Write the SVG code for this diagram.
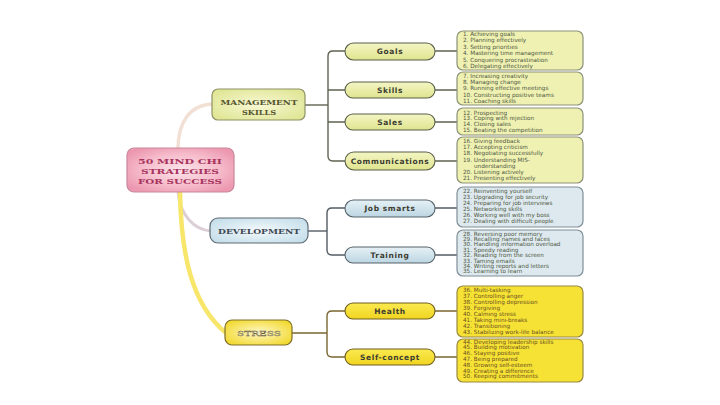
<svg xmlns="http://www.w3.org/2000/svg" width="720" height="405" viewBox="0 0 720 405">
<defs>
<radialGradient id="gPink" cx="50%" cy="50%" r="60%"><stop offset="0" stop-color="#fbe4ea"/><stop offset="0.6" stop-color="#f6bccb"/><stop offset="1" stop-color="#ec98b0"/></radialGradient>
<radialGradient id="gMgmt" cx="50%" cy="50%" r="60%"><stop offset="0" stop-color="#f8f8d4"/><stop offset="1" stop-color="#e0e696"/></radialGradient>
<radialGradient id="gDev" cx="50%" cy="50%" r="60%"><stop offset="0" stop-color="#f4f9fc"/><stop offset="1" stop-color="#c6dfea"/></radialGradient>
<radialGradient id="gStress" cx="50%" cy="50%" r="60%"><stop offset="0" stop-color="#fff8c8"/><stop offset="1" stop-color="#f2d930"/></radialGradient>
<linearGradient id="gPillG" x1="0" y1="0" x2="0" y2="1"><stop offset="0" stop-color="#f4f6c4"/><stop offset="1" stop-color="#dfe48e"/></linearGradient>
<linearGradient id="gPillB" x1="0" y1="0" x2="0" y2="1"><stop offset="0" stop-color="#e6f1f6"/><stop offset="1" stop-color="#bcd6e2"/></linearGradient>
<linearGradient id="gPillY" x1="0" y1="0" x2="0" y2="1"><stop offset="0" stop-color="#fbea50"/><stop offset="1" stop-color="#f0d420"/></linearGradient>
</defs>
<style>
.main{font-family:"DejaVu Serif","Liberation Serif",serif;font-size:8px;text-anchor:middle}
.pill{font-family:"DejaVu Sans","Liberation Sans",sans-serif;font-weight:bold;font-size:7.5px;letter-spacing:0.6px;fill:#3c3c30;text-anchor:middle}
.li{font-family:"DejaVu Sans","Liberation Sans",sans-serif;font-size:5.7px;fill:#4e5642}
.liY{font-family:"DejaVu Sans","Liberation Sans",sans-serif;font-size:5.7px;fill:#6a4e22}
.listG{fill:#eef1b2;stroke:#8c9278;stroke-width:1.2}
.listB{fill:#dde9ee;stroke:#7f8e96;stroke-width:1.2}
.listY{fill:#f6e234;stroke:#9a8a40;stroke-width:1.2}
.pillG{fill:url(#gPillG);stroke:#5a5e48;stroke-width:1.1}
.pillB{fill:url(#gPillB);stroke:#56626a;stroke-width:1.1}
.pillY{fill:url(#gPillY);stroke:#6e5e20;stroke-width:1.1}
.cG{fill:none;stroke:#5e6450;stroke-width:1.4}
.cB{fill:none;stroke:#535c64;stroke-width:1.4}
.cY{fill:none;stroke:#7a6630;stroke-width:1.4}
</style>
<rect width="720" height="405" fill="#ffffff"/>

<g id="connectors">
<path d="M178,149 C178,122 190,105 212,104" fill="none" stroke="#f2e0d4" stroke-width="3.5"/>
<path d="M178,192 C180,215 194,230 211,231" fill="none" stroke="#dccfd6" stroke-width="3"/>
<path d="M180,192 C181,255 192,305 226,333" fill="none" stroke="#f7e66a" stroke-width="4.5"/>

<path class="cG" d="M305,105 H328"/>
<path class="cG" d="M345,51 H333 Q328,51 328,56 V156 Q328,161 333,161 H345"/>
<path class="cG" d="M328,90 H345 M328,122 H345"/>
<path class="cG" d="M435,51 H457 M435,90 H457 M435,122 H457 M435,161 H457"/>

<path class="cB" d="M308,231 H327"/>
<path class="cB" d="M345,208 H332 Q327,208 327,213 V250 Q327,255 332,255 H345"/>
<path class="cB" d="M435,208 H457 M435,255 H457"/>

<path class="cY" d="M292,333 H327"/>
<path class="cY" d="M345,311 H332 Q327,311 327,316 V352 Q327,357 332,357 H345"/>
<path class="cY" d="M435,311 H457 M435,357 H457"/>
</g>

<g id="center">
<rect x="127" y="148" width="107" height="44" rx="7" fill="url(#gPink)" stroke="#c9879c" stroke-width="1.2"/>
<text class="main" x="180" y="164" fill="#a8345e" font-weight="bold" textLength="84" lengthAdjust="spacingAndGlyphs">50 MIND CHI</text>
<text class="main" x="180" y="174" fill="#a8345e" font-weight="bold" textLength="78" lengthAdjust="spacingAndGlyphs">STRATEGIES</text>
<text class="main" x="180" y="184" fill="#a8345e" font-weight="bold" textLength="84" lengthAdjust="spacingAndGlyphs">FOR SUCCESS</text>
</g>

<g id="management">
<rect x="212" y="89" width="93" height="31" rx="6" fill="url(#gMgmt)" stroke="#8e9266" stroke-width="1.2"/>
<text class="main" x="259" y="105" fill="#55552f" font-weight="bold" textLength="77" lengthAdjust="spacingAndGlyphs">MANAGEMENT</text>
<text class="main" x="259" y="115" fill="#55552f" font-weight="bold" textLength="34" lengthAdjust="spacingAndGlyphs">SKILLS</text>
</g>

<g id="development">
<rect x="210" y="218" width="98" height="25" rx="8" fill="url(#gDev)" stroke="#5e6a72" stroke-width="1.2"/>
<text class="main" x="259" y="234" fill="#3e4a56" font-weight="bold" textLength="82" lengthAdjust="spacingAndGlyphs">DEVELOPMENT</text>
</g>

<g id="stress">
<rect x="225" y="320" width="67" height="25" rx="7" fill="url(#gStress)" stroke="#7e6e2a" stroke-width="1.2"/>
<text class="main" x="259" y="336" fill="#fffbe0" stroke="#6a6040" stroke-width="0.4" textLength="44" lengthAdjust="spacingAndGlyphs">STRESS</text>
</g>

<g id="goals">
<rect class="pillG" x="345" y="43" width="90" height="17" rx="8.5"/>
<text class="pill" x="390" y="54">Goals</text>
</g>
<g id="skills">
<rect class="pillG" x="345" y="82" width="90" height="16" rx="8"/>
<text class="pill" x="390" y="93">Skills</text>
</g>
<g id="sales">
<rect class="pillG" x="345" y="114" width="90" height="16" rx="8"/>
<text class="pill" x="390" y="125">Sales</text>
</g>
<g id="communications">
<rect class="pillG" x="345" y="152" width="90" height="18" rx="9"/>
<text class="pill" x="390" y="164">Communications</text>
</g>
<g id="jobsmarts">
<rect class="pillB" x="345" y="200" width="90" height="17" rx="8.5"/>
<text class="pill" x="390" y="211">Job smarts</text>
</g>
<g id="training">
<rect class="pillB" x="345" y="247" width="90" height="16" rx="8"/>
<text class="pill" x="390" y="258">Training</text>
</g>
<g id="health">
<rect class="pillY" x="345" y="303" width="90" height="16" rx="8"/>
<text class="pill" x="390" y="314">Health</text>
</g>
<g id="selfconcept">
<rect class="pillY" x="345" y="349" width="90" height="16" rx="8"/>
<text class="pill" x="390" y="360">Self-concept</text>
</g>

<g id="list-goals">
<rect class="listG" x="457" y="31" width="126" height="39" rx="6"/>
<text class="li" x="463" y="36">1. Achieving goals</text>
<text class="li" x="463" y="42.4">2. Planning effectively</text>
<text class="li" x="463" y="48.8">3. Setting priorities</text>
<text class="li" x="463" y="55.2">4. Mastering time management</text>
<text class="li" x="463" y="61.6">5. Conquering procrastination</text>
<text class="li" x="463" y="68">6. Delegating effectively</text>
</g>
<g id="list-skills">
<rect class="listG" x="457" y="72" width="126" height="33" rx="6"/>
<text class="li" x="463" y="77.7">7. Increasing creativity</text>
<text class="li" x="463" y="84">8. Managing change</text>
<text class="li" x="463" y="90.3">9. Running effective meetings</text>
<text class="li" x="463" y="96.6">10. Constructing positive teams</text>
<text class="li" x="463" y="102.9">11. Coaching skills</text>
</g>
<g id="list-sales">
<rect class="listG" x="457" y="108" width="126" height="27" rx="6"/>
<text class="li" x="463" y="114.6">12. Prospecting</text>
<text class="li" x="463" y="120.4">13. Coping with rejection</text>
<text class="li" x="463" y="126.2">14. Closing sales</text>
<text class="li" x="463" y="132">15. Beating the competition</text>
</g>
<g id="list-communications">
<rect class="listG" x="457" y="137" width="126" height="46" rx="6"/>
<text class="li" x="463" y="142.6">16. Giving feedback</text>
<text class="li" x="463" y="148.9">17. Accepting criticism</text>
<text class="li" x="463" y="155.2">18. Negotiating successfully</text>
<text class="li" x="463" y="161.5">19. Understanding MIS-</text>
<text class="li" x="474" y="167.8">understanding</text>
<text class="li" x="463" y="174.1">20. Listening actively</text>
<text class="li" x="463" y="180.4">21. Presenting effectively</text>
</g>
<g id="list-jobsmarts">
<rect class="listB" x="457" y="187" width="126" height="40" rx="6"/>
<text class="li" x="463" y="192.6">22. Reinventing yourself</text>
<text class="li" x="463" y="198.7">23. Upgrading for job security</text>
<text class="li" x="463" y="204.8">24. Preparing for job interviews</text>
<text class="li" x="463" y="210.9">25. Networking skills</text>
<text class="li" x="463" y="217">26. Working well with my boss</text>
<text class="li" x="463" y="223.1">27. Dealing with difficult people</text>
</g>
<g id="list-training">
<rect class="listB" x="457" y="230" width="126" height="46" rx="6"/>
<text class="li" x="463" y="235.6">28. Reversing poor memory</text>
<text class="li" x="463" y="241">29. Recalling names and faces</text>
<text class="li" x="463" y="246.4">30. Handling information overload</text>
<text class="li" x="463" y="251.8">31. Speedy reading</text>
<text class="li" x="463" y="257.2">32. Reading from the screen</text>
<text class="li" x="463" y="262.6">33. Taming emails</text>
<text class="li" x="463" y="268">34. Writing reports and letters</text>
<text class="li" x="463" y="273.4">35. Learning to learn</text>
</g>
<g id="list-health">
<rect class="listY" x="457" y="286" width="126" height="51" rx="6"/>
<text class="liY" x="463" y="291.6">36. Multi-tasking</text>
<text class="liY" x="463" y="297.6">37. Controlling anger</text>
<text class="liY" x="463" y="303.6">38. Controlling depression</text>
<text class="liY" x="463" y="309.6">39. Forgiving</text>
<text class="liY" x="463" y="315.6">40. Calming stress</text>
<text class="liY" x="463" y="321.6">41. Taking mini-breaks</text>
<text class="liY" x="463" y="327.6">42. Transitioning</text>
<text class="liY" x="463" y="333.6">43. Stabilizing work-life balance</text>
</g>
<g id="list-selfconcept">
<rect class="listY" x="457" y="339" width="126" height="43" rx="6"/>
<text class="liY" x="463" y="343.6">44. Developing leadership skills</text>
<text class="liY" x="463" y="349.4">45. Building motivation</text>
<text class="liY" x="463" y="355.2">46. Staying positive</text>
<text class="liY" x="463" y="361">47. Being prepared</text>
<text class="liY" x="463" y="366.8">48. Growing self-esteem</text>
<text class="liY" x="463" y="372.6">49. Creating a difference</text>
<text class="liY" x="463" y="378.4">50. Keeping commitments</text>
</g>
</svg>
